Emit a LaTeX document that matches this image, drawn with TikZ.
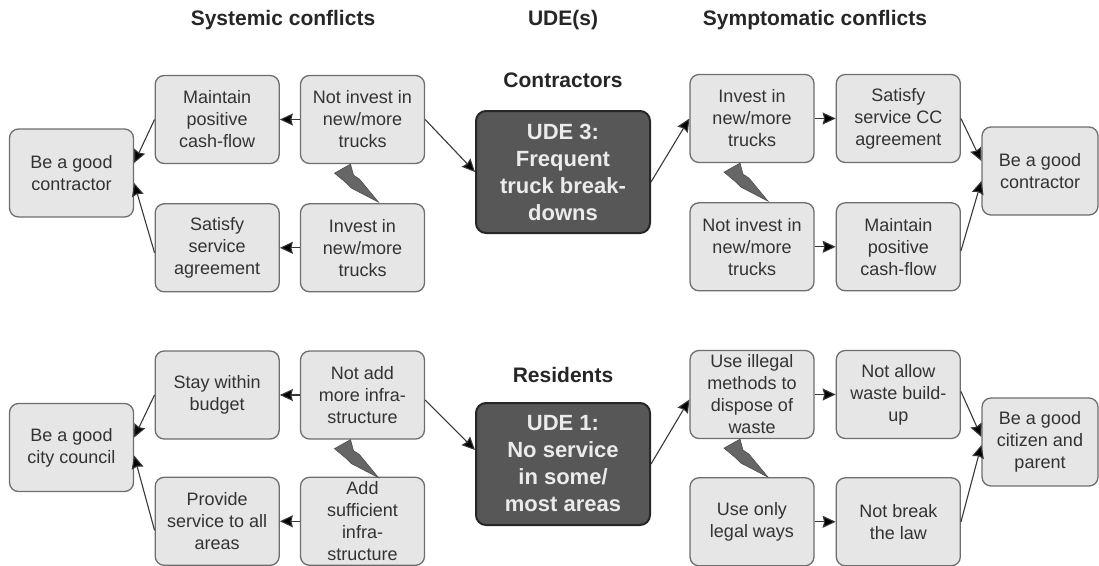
\documentclass[tikz,border=0pt]{standalone}
\usepackage{fontspec}
\setmainfont{Liberation Sans}
\usetikzlibrary{positioning,arrows.meta}

\definecolor{boxfill}{HTML}{E6E6E6}
\definecolor{boxline}{HTML}{6E6E6E}
\definecolor{udefill}{HTML}{575757}
\definecolor{boltfill}{HTML}{666666}
\definecolor{txt}{HTML}{333333}

% conflict bolt hanging under the upper box of a pair
\newcommand{\bolt}[1]{%
  \begin{scope}[shift={(#1.south)}]
    \filldraw[fill=boltfill, draw=black!70, line width=0.6pt]
      (-28,9) -- (-12,0) -- (-9,11) -- (-3,15) -- (16,38) -- (-11,24) -- (-16,19) -- cycle;
  \end{scope}}

\begin{document}
\begin{tikzpicture}[
      x=1pt, y=-1pt,
      nodes={font=\fontsize{18}{22}\selectfont, text=txt, align=center},
      box/.style={draw=boxline, fill=boxfill, line width=1.3pt, rounded corners=9pt,
        minimum width=124pt, minimum height=88pt, inner sep=1pt},
      ude/.style={draw=black!85, fill=udefill, line width=2pt, rounded corners=10pt,
        minimum width=174pt, minimum height=122pt, text=white!92!black,
        font=\bfseries\fontsize{22}{27}\selectfont},
      head/.style={font=\bfseries\fontsize{21}{25}\selectfont, text=black!85},
      link/.style={-{Stealth[length=13pt,width=12pt,inset=1.5pt,fill=black]},
        draw=black!78, line width=1.1pt}
      ]
      \useasboundingbox (0,0) rectangle (1099,565);

      \node[head] (hsys) at (283,20) {Systemic conflicts};
      \node[head] (hude) at (563,20) {UDE(s)};
      \node[head] (hsym) at (815,20) {Symptomatic conflicts};
      \node[head] (hcon) at (563,80) {Contractors};
      \node[head] (hres) at (563,375) {Residents};

      % contractors
      \node[ude] (ude3) at (563,172) {UDE 3:\\Frequent\\truck break-\\downs};
      \node[box] (noinvL) at (362.5,119.5) {Not invest in\\new/more\\trucks};
      \node[box, left=20pt of noinvL] (cashL) {Maintain\\positive\\cash-flow};
      \node[box, below=39pt of noinvL] (invL) {Invest in\\new/more\\trucks};
      \node[box, left=20pt of invL] (satL) {Satisfy\\service\\agreement};
      \node[box] (goodL) at (71.5,173) {Be a good\\contractor};
      \node[box] (invR) at (752,118.5) {Invest in\\new/more\\trucks};
      \node[box, right=21pt of invR] (satR) {Satisfy\\service CC\\agreement};
      \node[box, below=39pt of invR] (noinvR) {Not invest in\\new/more\\trucks};
      \node[box, right=21pt of noinvR] (cashR) {Maintain\\positive\\cash-flow};
      \node[box, minimum width=116pt] (goodR) at (1040,171) {Be a good\\contractor};

      % residents
      \node[ude] (ude1) at (563,464) {UDE 1:\\No service\\in some/\\most areas};
      \node[box] (noadd) at (362.5,395) {Not add\\more infra-\\structure};
      \node[box, left=20pt of noadd] (budget) {Stay within\\budget};
      \node[box, below=37pt of noadd] (addsuf) {Add\\sufficient\\infra-\\structure};
      \node[box, left=20pt of addsuf] (provide) {Provide\\service to all\\areas};
      \node[box] (council) at (71.5,447.5) {Be a good\\city council};
      \node[box] (illegal) at (752,394.5) {Use illegal\\methods to\\dispose of\\waste};
      \node[box, right=21pt of illegal] (waste) {Not allow\\waste build-\\up};
      \node[box, below=38pt of illegal] (legal) {Use only\\legal ways};
      \node[box, right=21pt of legal] (law) {Not break\\the law};
      \node[box, minimum width=116pt] (citizen) at (1040,442) {Be a good\\citizen and\\parent};

      % Connect the nodes
      \draw[link] (noinvL) -- (cashL);
      \draw[link] (invL) -- (satL);
      \draw[link] (cashL.west) -- ([yshift=10pt]goodL.east);
      \draw[link] ([yshift=-5pt]satL.west) -- ([yshift=-10pt]goodL.east);
      \draw[link] (noinvL.east) -- (ude3.west);
      \draw[link] ([yshift=-10pt]ude3.east) -- (invR.west);
      \draw[link] (invR) -- (satR);
      \draw[link] (noinvR) -- (cashR);
      \draw[link] (satR.east) -- ([yshift=10pt]goodR.west);
      \draw[link] ([yshift=-4pt]cashR.west -| cashR.east) -- ([yshift=-10pt]goodR.west);

      \draw[link] (noadd) -- (budget);
      \draw[link] (addsuf) -- (provide);
      \draw[link] (budget.west) -- ([yshift=10pt]council.east);
      \draw[link] ([yshift=-9pt]provide.west) -- ([yshift=-8pt]council.east);
      \draw[link] ([yshift=-5pt]noadd.east) -- ([yshift=14pt]ude1.west);
      \draw[link] (ude1.east) -- ([yshift=-5pt]illegal.west);
      \draw[link] (illegal) -- (waste);
      \draw[link] (legal) -- (law);
      \draw[link] ([yshift=3pt]waste.east) -- ([yshift=5pt]citizen.west);
      \draw[link] (law.east) -- ([yshift=-3pt]citizen.west);

      % conflicts between the two boxes of each pair
      \bolt{noinvL}
      \bolt{invR}
      \bolt{noadd}
      \bolt{illegal}
\end{tikzpicture}
\end{document}
